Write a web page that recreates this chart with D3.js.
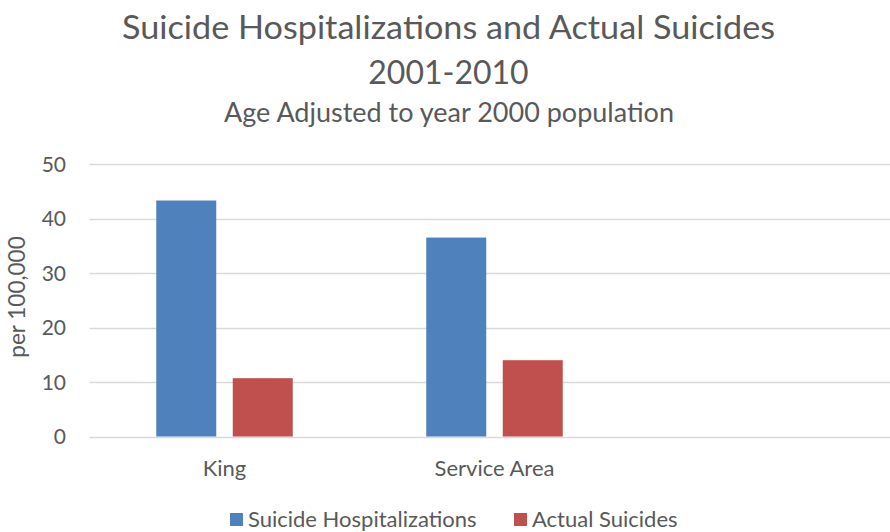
<!DOCTYPE html>
<html>
<head>
<meta charset="utf-8">
<script src="https://cdn.jsdelivr.net/npm/d3@7"></script>
<style>
  html, body { margin: 0; padding: 0; background: #fff; }
  svg { display: block; }
  text { font-family: Lato, "Open Sans", sans-serif; fill: #595959; }
</style>
</head>
<body>
<svg id="chart" width="890" height="532"></svg>
<script>
// Categories (the third slot is an empty category on the axis)
const categories = ["King", "Service Area", ""];
const seriesNames = ["Suicide Hospitalizations", "Actual Suicides"];
const hospitalizations = [43.3, 36.5, null];
const actualSuicides = [10.7, 14.0, null];
const yTicks = [0, 10, 20, 30, 40, 50];
const colors = ["#4F81BD", "#C0504D"];

const svg = d3.select("#chart");
const margin = { left: 89.5, right: 899.5, top: 164, bottom: 436.5 };

const x = d3.scaleBand()
  .domain(categories)
  .range([margin.left, margin.right]);

const y = d3.scaleLinear()
  .domain([0, 50])
  .range([margin.bottom, margin.top]);

const barW = 60, barGap = 16.5;
const groupW = barW * 2 + barGap;

// Gridlines
svg.append("g")
  .selectAll("line")
  .data(yTicks)
  .join("line")
  .attr("x1", margin.left)
  .attr("x2", margin.right)
  .attr("y1", d => Math.round(y(d)) + 0.5)
  .attr("y2", d => Math.round(y(d)) + 0.5)
  .attr("stroke", "#D9D9D9")
  .attr("stroke-width", 1.5);

// Y axis labels
svg.append("g")
  .selectAll("text")
  .data(yTicks)
  .join("text")
  .attr("x", 66)
  .attr("y", d => y(d) + 7.5)
  .attr("text-anchor", "end")
  .style("font-size", "21px")
  .text(d => d);

// Bars
const series = [hospitalizations, actualSuicides];
series.forEach((vals, si) => {
  svg.append("g")
    .selectAll("rect")
    .data(categories.map((c, i) => ({ c, v: vals[i] })).filter(d => d.v != null))
    .join("rect")
    .attr("x", d => x(d.c) + (x.bandwidth() - groupW) / 2 + si * (barW + barGap))
    .attr("width", barW)
    .attr("y", d => y(d.v))
    .attr("height", d => y(0) - y(d.v))
    .attr("fill", colors[si]);
});

// Category labels
svg.append("g")
  .selectAll("text")
  .data(categories)
  .join("text")
  .attr("x", d => x(d) + x.bandwidth() / 2)
  .attr("y", 476)
  .attr("text-anchor", "middle")
  .style("font-size", "22px")
  .text(d => d);

// Y axis title
svg.append("text")
  .attr("transform", "translate(25,297) rotate(-90)")
  .attr("text-anchor", "middle")
  .style("font-size", "22.5px")
  .text("per 100,000");

// Titles
svg.append("text")
  .attr("x", 448.5).attr("y", 39)
  .attr("text-anchor", "middle")
  .style("font-size", "33px")
  .attr("textLength", 653).attr("lengthAdjust", "spacingAndGlyphs")
  .text("Suicide Hospitalizations and Actual Suicides");
svg.append("text")
  .attr("x", 448.5).attr("y", 84)
  .attr("text-anchor", "middle")
  .style("font-size", "32px")
  .text("2001-2010");
svg.append("text")
  .attr("x", 449).attr("y", 122)
  .attr("text-anchor", "middle")
  .style("font-size", "27px")
  .text("Age Adjusted to year 2000 population");

// Legend
const legendItems = [
  { name: seriesNames[0], color: colors[0], x: 230 },
  { name: seriesNames[1], color: colors[1], x: 514 }
];
const lg = svg.append("g").selectAll("g").data(legendItems).join("g");
lg.append("rect")
  .attr("x", d => d.x).attr("y", 513)
  .attr("width", 13).attr("height", 13)
  .attr("fill", d => d.color);
lg.append("text")
  .attr("x", d => d.x + 18).attr("y", 527)
  .style("font-size", "22px")
  .text(d => d.name);
</script>
</body>
</html>
